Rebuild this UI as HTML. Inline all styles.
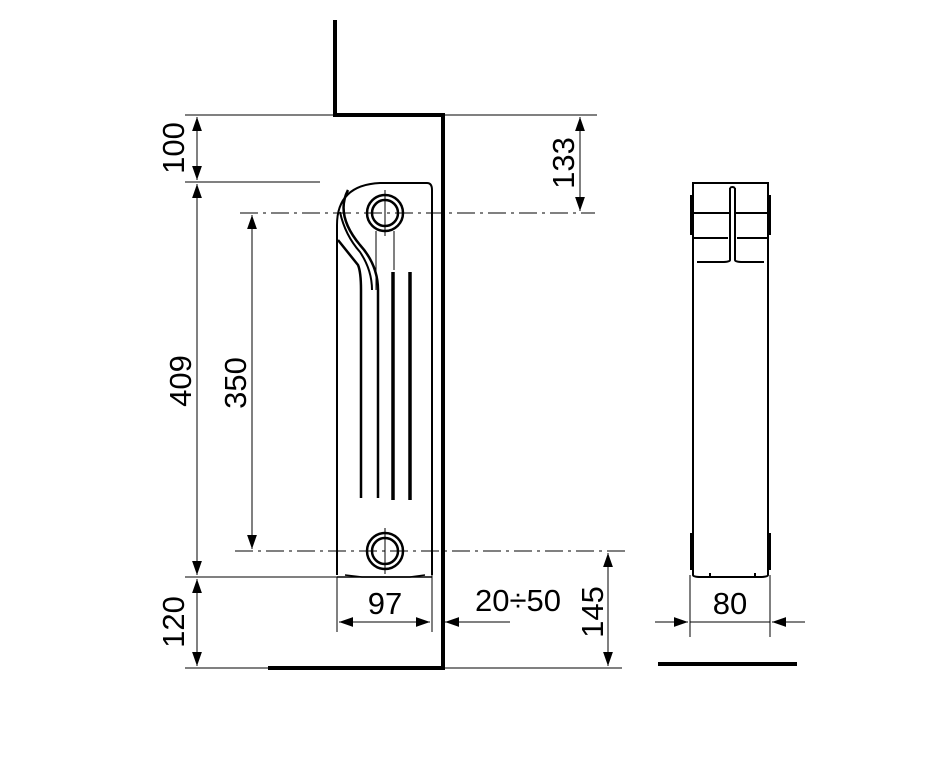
<!DOCTYPE html><html><head><style>body{margin:0;background:#fff}svg{display:block}text{font-family:"Liberation Sans",sans-serif;font-size:31px;fill:#000}</style></head><body>
<svg width="925" height="766" viewBox="0 0 925 766" xmlns="http://www.w3.org/2000/svg">
<defs><marker id="a" viewBox="0 0 10 10" refX="10" refY="5" markerWidth="14" markerHeight="14" markerUnits="userSpaceOnUse" orient="auto-start-reverse"><path d="M0,1.5 L10,5 L0,8.5 z" fill="#000"/></marker></defs>
<g fill="none" stroke="#000">
<path d="M335,20 V115 H443 V668 H268" stroke-width="4"/>
<path d="M658,664 H797" stroke-width="4"/>
<g stroke-width="1">
<path d="M185,115 H335 M185,182 H320 M185,577 H340 M185,668 H268 M443,115 H597 M443,668 H622"/>
<path d="M337,577 V632 M432,560 V632 M690,575 V637 M770,575 V637"/>
<path d="M240,213 H595 M235,551 H630" stroke-dasharray="18,5,3,5"/>
<path d="M197,117 V180" marker-start="url(#a)" marker-end="url(#a)"/>
<path d="M197,184 V575" marker-start="url(#a)" marker-end="url(#a)"/>
<path d="M197,579 V666" marker-start="url(#a)" marker-end="url(#a)"/>
<path d="M252,215 V549" marker-start="url(#a)" marker-end="url(#a)"/>
<path d="M580,117 V211" marker-start="url(#a)" marker-end="url(#a)"/>
<path d="M608,553 V666" marker-start="url(#a)" marker-end="url(#a)"/>
<path d="M339,622 H430" marker-start="url(#a)" marker-end="url(#a)"/>
<path d="M510,622 H445" marker-end="url(#a)"/>
<path d="M655,622 H688" marker-end="url(#a)"/>
<path d="M805,622 H772" marker-end="url(#a)"/>
<path d="M690,622 H770"/>
</g>
<g stroke-width="2.5">
<path d="M337,575 V225 Q337,185 380,183 H427 Q432,183 432,190 V575" stroke-width="2"/>
<path d="M337,577 H432" stroke-width="1.5"/>
<path d="M348,190 Q335,215 360,245 Q378,265 378,290 V498"/>
<path d="M340,212 Q345,235 360,252 Q372,270 372,290" stroke-width="2"/>
<path d="M338,240 Q350,255 358,265 Q361,272 361,290 V498" stroke-width="2.5"/>
<circle cx="385" cy="213" r="18"/><circle cx="385" cy="213" r="13"/>
<circle cx="385" cy="551" r="18"/><circle cx="385" cy="551" r="13"/>
<path d="M345,575 L362,577 H410 L425,575" stroke-width="1.5"/>
</g>
<path d="M393,272 V500 M410,272 V500" stroke-width="3.5"/>
<path d="M376,231 V290 M394,231 V270 M385,190 V236 M385,528 V574" stroke-width="1"/>
<g stroke-width="2">
<path d="M693,575 V183 H768 V575 Q768,577 760,577 H701 Q693,577 693,575 Z"/>
<path d="M693,213 H730 V260 Q730,262 722,262 H697 M768,213 H735 V260 Q735,262 743,262 H764"/>
<path d="M693,238 H728 M768,238 H737"/>
<path d="M730,188 V213 M735,188 V213 M730,188 Q732,186 735,188"/>
<path d="M710,573 V577 H755 V573" stroke-width="2"/>
</g>
<path d="M692,195 V235 M769,195 V235 M692,533 V570 M769,533 V570" stroke-width="4"/>
</g>
<text transform="translate(184,148) rotate(-90)" text-anchor="middle">100</text>
<text transform="translate(191,381) rotate(-90)" text-anchor="middle">409</text>
<text transform="translate(184,622) rotate(-90)" text-anchor="middle">120</text>
<text transform="translate(246,383) rotate(-90)" text-anchor="middle">350</text>
<text transform="translate(574,163) rotate(-90)" text-anchor="middle">133</text>
<text transform="translate(603,612) rotate(-90)" text-anchor="middle">145</text>
<text x="385" y="614" text-anchor="middle">97</text>
<text x="518" y="611" text-anchor="middle">20÷50</text>
<text x="730" y="614" text-anchor="middle">80</text>
</svg></body></html>
